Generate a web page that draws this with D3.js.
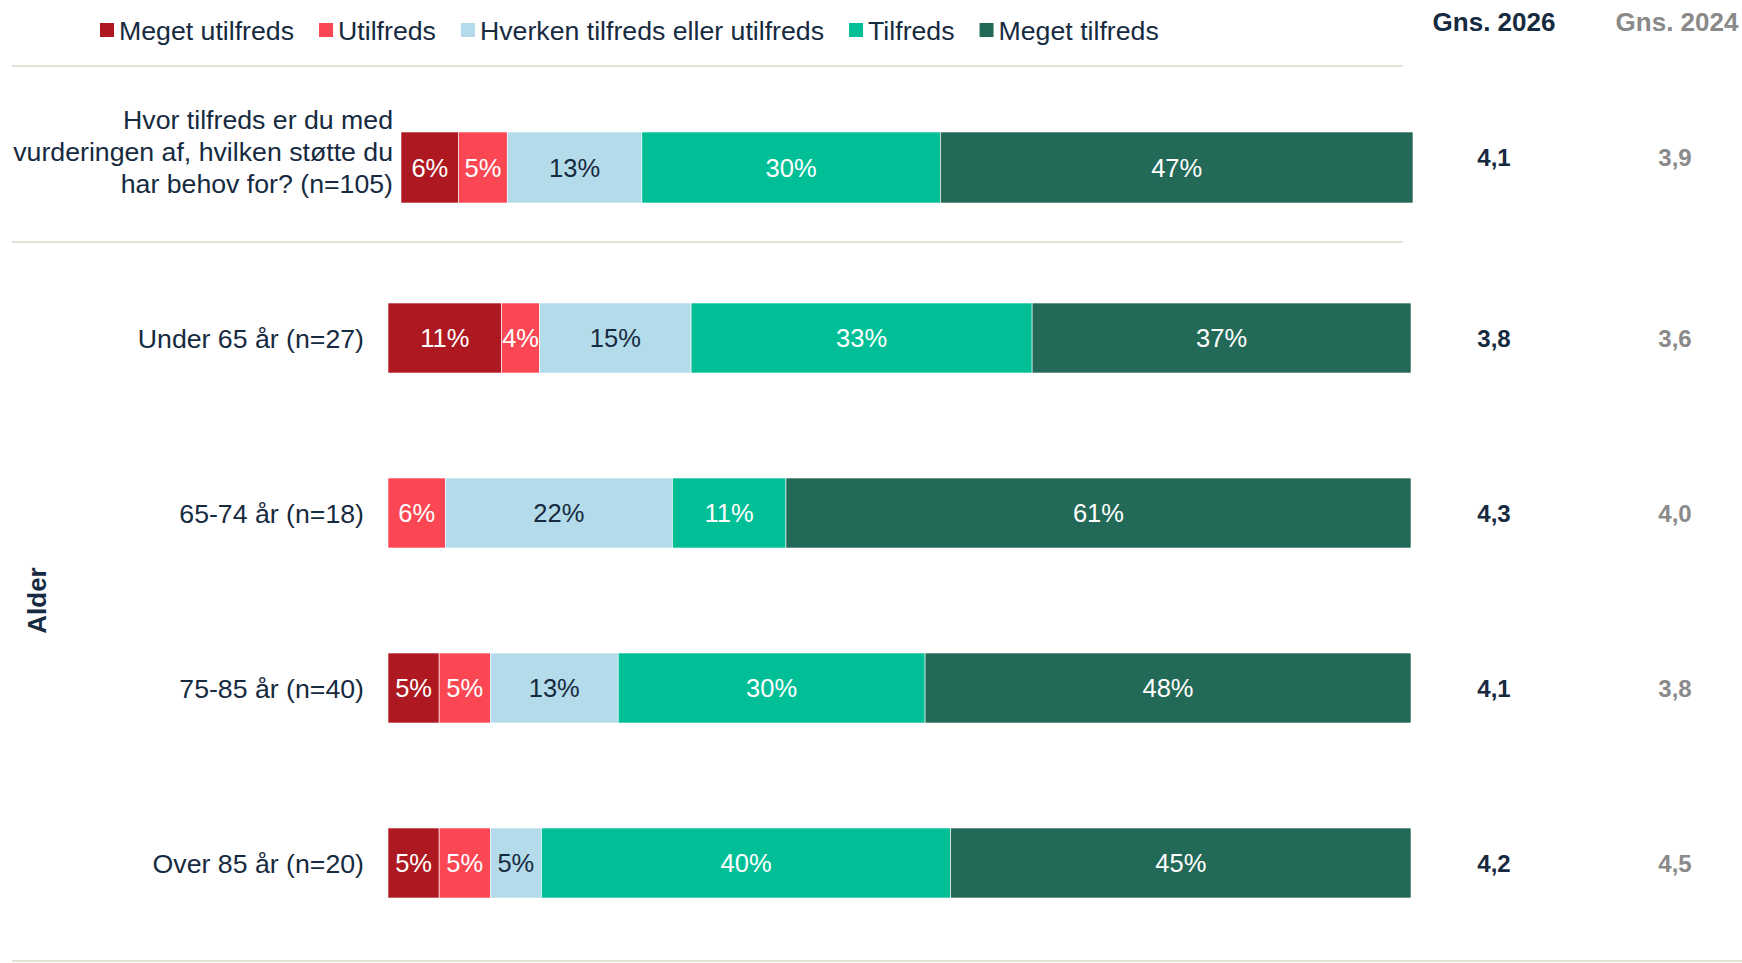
<!DOCTYPE html>
<html>
<head>
<meta charset="utf-8">
<script src="https://cdn.jsdelivr.net/npm/d3@7"></script>
<style>
  body { margin: 0; background: #fff; }
  text { font-family: "Liberation Sans", Arial, sans-serif; }
</style>
</head>
<body>
<div class="chart"></div>
<script>

// Chart data
var categories = ["Meget utilfreds", "Utilfreds", "Hverken tilfreds eller utilfreds", "Tilfreds", "Meget tilfreds"];
var colors = ["#ae1820", "#fb4754", "#b4dbea", "#00bf97", "#236957"];
var labelColors = ["#fff", "#fff", "#162a40", "#fff", "#fff"];

var questionLabel = ["Hvor tilfreds er du med", "vurderingen af, hvilken støtte du", "har behov for? (n=105)"];
var questionValues = [5.7, 4.8, 13.3, 29.5, 46.7];
var questionAvg2026 = "4,1";
var questionAvg2024 = "3,9";

var groupLabels = ["Under 65 år (n=27)", "65-74 år (n=18)", "75-85 år (n=40)", "Over 85 år (n=20)"];
var meget_utilfreds = [11.1, 0, 5.0, 5.0];
var utilfreds = [3.7, 5.6, 5.0, 5.0];
var hverken = [14.8, 22.2, 12.5, 5.0];
var tilfreds = [33.3, 11.1, 30.0, 40.0];
var meget_tilfreds = [37.0, 61.1, 47.5, 45.0];
var avg2026 = ["3,8", "4,3", "4,1", "4,2"];
var avg2024 = ["3,6", "4,0", "3,8", "4,5"];
var groupTitle = "Alder";

var width = 1742, height = 963;
var navy = "#162a40", grey = "#8a8a8a", ruleColor = "#e4e0d4";
var labelSize = "26.7px";

var svg = d3.select(".chart")
  .append("svg")
    .attr("width", width)
    .attr("height", height);

// Turn a row of values into stacked segments
function stackRow(values) {
    var x0 = 0;
    return values.map(function(v, i) {
        var seg = { i: i, v: v, x0: x0, x1: x0 + v };
        x0 += v;
        return seg;
    });
}

function fmt(v) { return Math.round(v) + "%"; }

function drawBar(g, values, x, yCenter, barH) {
    var segs = stackRow(values).filter(function(s) { return s.v > 0; });
    g.selectAll("rect.seg")
      .data(segs)
      .enter()
      .append("rect")
        .attr("class", "seg")
        .attr("x", function(d) { return x(d.x0); })
        .attr("y", yCenter - barH / 2)
        .attr("width", function(d) { return x(d.x1) - x(d.x0); })
        .attr("height", barH)
        .style("fill", function(d) { return colors[d.i]; })
        .style("stroke", "#fff")
        .style("stroke-width", 0.6);

    g.selectAll("text.seg")
      .data(segs)
      .enter()
      .append("text")
        .attr("class", "seg")
        .attr("x", function(d) { return (x(d.x0) + x(d.x1)) / 2; })
        .attr("y", yCenter)
        .attr("dy", "0.36em")
        .attr("text-anchor", "middle")
        .style("font-size", "25.5px")
        .style("fill", function(d) { return labelColors[d.i]; })
        .text(function(d) { return fmt(d.v); });
}

// Legend
var legend = svg.append("g").attr("transform", "translate(100,30)");
var lx = 0;
categories.forEach(function(c, i) {
    legend.append("rect")
      .attr("x", lx)
      .attr("y", -7)
      .attr("width", 14)
      .attr("height", 14)
      .style("fill", colors[i]);
    var t = legend.append("text")
      .attr("x", lx + 19)
      .attr("dy", "0.36em")
      .style("font-size", labelSize)
      .style("fill", navy)
      .text(c);
    lx += 19 + t.node().getComputedTextLength() + 25;
});

// Column headers
svg.append("text")
  .attr("x", 1494).attr("y", 22).attr("dy", "0.36em")
  .attr("text-anchor", "middle")
  .style("font-size", "26px").style("font-weight", "bold").style("fill", navy)
  .text("Gns. 2026");
svg.append("text")
  .attr("x", 1677).attr("y", 22).attr("dy", "0.36em")
  .attr("text-anchor", "middle")
  .style("font-size", "26px").style("font-weight", "bold").style("fill", grey)
  .text("Gns. 2024");

// Separator rules
[66, 242, 961].forEach(function(yy) {
    svg.append("line")
      .attr("x1", 12).attr("x2", yy > 900 ? width : 1403)
      .attr("y1", yy).attr("y2", yy)
      .style("stroke", ruleColor)
      .style("stroke-width", 2);
});

// Question row
var xTop = d3.scaleLinear().domain([0, d3.sum(questionValues)]).range([401, 1413]);
var topY = 167.5;
var topG = svg.append("g");
drawBar(topG, questionValues, xTop, topY, 71);

var qText = svg.append("text")
  .attr("text-anchor", "end")
  .style("font-size", labelSize)
  .style("fill", navy);
questionLabel.forEach(function(line, i) {
    qText.append("tspan")
      .attr("x", 393)
      .attr("y", topY - 16 + (i - 1) * 32)
      .attr("dy", "0.36em")
      .text(line);
});

svg.append("text")
  .attr("x", 1494).attr("y", topY - 10).attr("dy", "0.36em")
  .attr("text-anchor", "middle")
  .style("font-size", "24px").style("font-weight", "bold").style("fill", navy)
  .text(questionAvg2026);
svg.append("text")
  .attr("x", 1675).attr("y", topY - 10).attr("dy", "0.36em")
  .attr("text-anchor", "middle")
  .style("font-size", "24px").style("font-weight", "bold").style("fill", grey)
  .text(questionAvg2024);

// Group rows
var y = d3.scalePoint().domain(groupLabels).range([338, 863]);
var x = d3.scaleLinear().domain([0, 100]).range([388, 1411]);

groupLabels.forEach(function(lab, j) {
    var vals = [meget_utilfreds[j], utilfreds[j], hverken[j], tilfreds[j], meget_tilfreds[j]];
    var total = d3.sum(vals);
    var xs = x.copy().domain([0, total]);
    var g = svg.append("g");
    drawBar(g, vals, xs, y(lab), 70);

    svg.append("text")
      .attr("x", 364).attr("y", y(lab)).attr("dy", "0.36em")
      .attr("text-anchor", "end")
      .style("font-size", labelSize).style("fill", navy)
      .text(lab);

    svg.append("text")
      .attr("x", 1494).attr("y", y(lab)).attr("dy", "0.36em")
      .attr("text-anchor", "middle")
      .style("font-size", "24px").style("font-weight", "bold").style("fill", navy)
      .text(avg2026[j]);
    svg.append("text")
      .attr("x", 1675).attr("y", y(lab)).attr("dy", "0.36em")
      .attr("text-anchor", "middle")
      .style("font-size", "24px").style("font-weight", "bold").style("fill", grey)
      .text(avg2024[j]);
});

// Group title
svg.append("text")
  .attr("transform", "translate(37," + ((y(groupLabels[0]) + y(groupLabels[3])) / 2) + ") rotate(-90)")
  .attr("dy", "0.36em")
  .attr("text-anchor", "middle")
  .style("font-size", "26px").style("font-weight", "bold").style("fill", navy)
  .text(groupTitle);

</script>
</body>
</html>
